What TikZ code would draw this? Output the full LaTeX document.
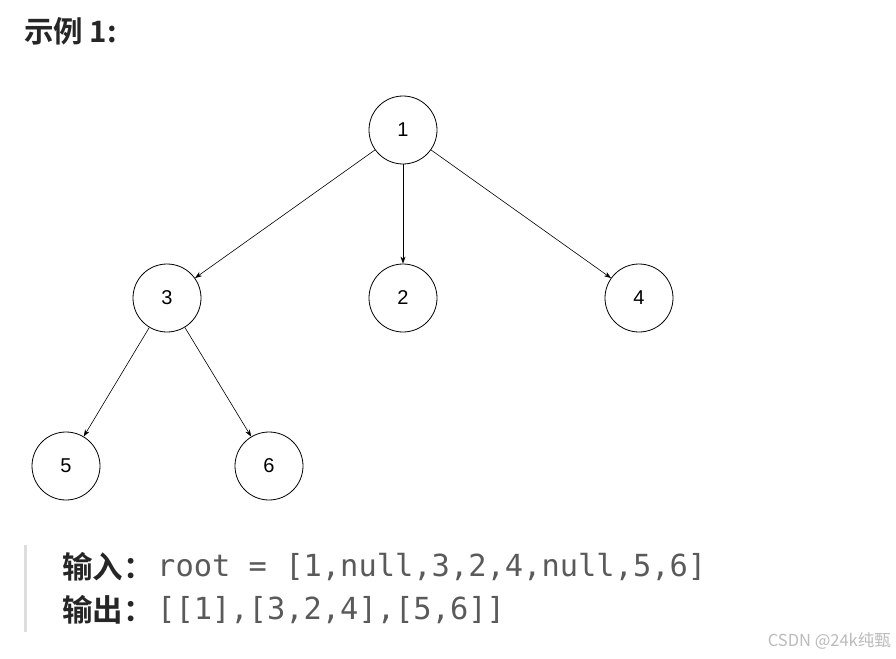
\documentclass[tikz,border=0pt]{standalone}
\usepackage{fontspec}
\setmainfont{Liberation Sans}
\newfontfamily\cjkb{Noto Sans CJK SC}[BoldFont={* Bold}]
\newfontfamily\cjk{Noto Sans CJK SC}
\newfontfamily\codef{DejaVu Sans Mono}
\usetikzlibrary{arrows.meta}
\definecolor{codegray}{HTML}{5A5A5A}
\definecolor{barg}{HTML}{DDDDDD}
\definecolor{wmark}{HTML}{BBBBBB}
\tikzset{
  tnode/.style={draw, circle, minimum size=68pt, inner sep=0pt, line width=0.8pt, font=\fontsize{20}{24}\selectfont},
  edge/.style={draw, line width=0.6pt, -{Stealth[length=7pt,width=5pt]}},
}
\begin{document}
\begin{tikzpicture}[x=1pt,y=-1pt]
\useasboundingbox (0,0) rectangle (896,658);
\fill[white] (0,0) rectangle (896,658);
% title
\node[anchor=west, inner sep=0pt, text=black!85] (title) at (24,31) {\fontsize{29.5}{32}\selectfont\cjkb\bfseries 示例 1:};
% tree
\node[tnode] (n1) at (403,130) {1};
\node[tnode] (n3) at (167,298) {3};
\node[tnode] (n2) at (403,298) {2};
\node[tnode] (n4) at (639,298) {4};
\node[tnode] (n5) at (66,466) {5};
\node[tnode] (n6) at (269,466) {6};
\draw[edge] (n1) -- (n3);
\draw[edge] (n1) -- (n2);
\draw[edge] (n1) -- (n4);
\draw[edge] (n3) -- (n5);
\draw[edge] (n3) -- (n6);
% quote bar
\fill[barg] (24,545) rectangle (27,632);
\node[anchor=west, inner sep=0pt, text=black!85] (in) at (62,567) {\fontsize{30.5}{32}\selectfont\cjkb\bfseries 输入：};
\node[anchor=west, inner sep=0pt, text=codegray] (incode) at (157,567) {\fontsize{30.4}{34}\selectfont\codef root = [1,null,3,2,4,null,5,6]};
\node[anchor=west, inner sep=0pt, text=black!85] (out) at (62,610) {\fontsize{30.5}{32}\selectfont\cjkb\bfseries 输出：};
\node[anchor=west, inner sep=0pt, text=codegray] (outcode) at (157,610) {\fontsize{30.4}{34}\selectfont\codef [[1],[3,2,4],[5,6]]};
% watermark
\node[anchor=east, inner sep=0pt, text=wmark] (wm) at (891,641) {\fontsize{16.5}{18}\selectfont\cjk CSDN @24k纯甄};
\end{tikzpicture}
\end{document}
